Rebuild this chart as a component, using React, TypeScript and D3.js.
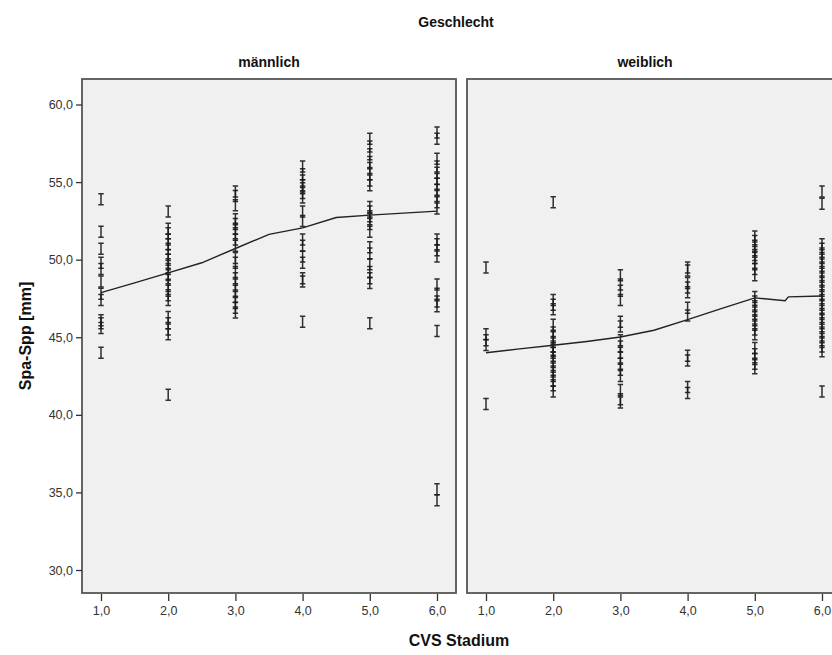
// App.tsx
import * as d3 from "d3";
import React, { useRef, useEffect } from "react";

// CVS stage columns
const stages = [1, 2, 3, 4, 5, 6];
const yTicks = [30, 35, 40, 45, 50, 55, 60];
const panels = ["männlich", "weiblich"];

// Spa-Spp [mm] values per stage
const male1 = [53.9, 51.8, 50.7, 49.8, 49.4, 48.6, 47.8, 47.4, 46.1, 45.9, 45.6, 44.0];
const male2 = [53.1, 52.0, 51.7, 51.3, 51.0, 50.7, 50.3, 50.0, 49.7, 49.4, 49.1, 48.8, 48.3, 48.0, 47.7, 47.4, 46.3, 45.9, 45.5, 45.2, 41.3];
const male3 = [54.4, 54.1, 53.5, 52.6, 52.3, 52.0, 51.7, 51.3, 50.9, 50.1, 49.8, 49.2, 48.8, 48.4, 48.0, 47.6, 47.2, 46.9, 46.6];
const male4 = [56.0, 55.5, 55.1, 54.8, 54.6, 54.3, 54.0, 53.1, 52.5, 51.3, 50.9, 50.2, 49.8, 48.8, 48.6, 46.0];
const male5 = [57.8, 57.3, 56.8, 56.3, 55.9, 55.5, 55.1, 54.8, 53.4, 53.1, 52.8, 52.6, 52.3, 51.8, 50.8, 50.4, 49.7, 49.2, 48.8, 48.5, 45.9];
const male6 = [58.2, 57.8, 56.5, 56.0, 55.6, 55.2, 54.9, 54.5, 54.1, 53.7, 53.3, 51.3, 51.0, 50.6, 50.2, 48.4, 47.8, 47.3, 47.0, 45.4, 35.2, 34.5];

const female1 = [49.5, 45.2, 44.8, 44.5, 40.7];
const female2 = [53.7, 47.4, 47.1, 46.8, 45.8, 45.3, 45.0, 44.7, 44.4, 44.2, 44.0, 43.7, 43.4, 43.1, 42.8, 42.5, 42.2, 41.9, 41.5];
const female3 = [49.0, 48.4, 48.0, 47.4, 46.0, 45.7, 44.8, 44.4, 44.0, 43.7, 43.3, 42.9, 42.5, 41.6, 41.0, 40.8];
const female4 = [49.5, 49.3, 48.5, 48.2, 47.9, 46.9, 46.4, 43.8, 43.5, 41.8, 41.4];
const female5 = [51.5, 51.2, 50.9, 50.6, 50.3, 50.1, 49.8, 49.4, 49.0, 47.6, 47.3, 47.0, 46.7, 46.4, 46.1, 45.8, 45.5, 45.2, 44.3, 43.9, 43.6, 43.3, 43.0];
const female6 = [54.4, 53.6, 51.0, 50.7, 50.4, 50.1, 49.8, 49.5, 49.2, 48.9, 48.6, 48.3, 48.0, 47.7, 47.4, 47.1, 46.8, 46.5, 46.2, 45.9, 45.6, 45.3, 45.0, 44.7, 44.4, 44.1, 41.5];

// fit line
const maleFitX = [1, 1.5, 2, 2.5, 3, 3.5, 4, 4.5, 5, 5.5, 6];
const maleFitY = [47.88, 48.5, 49.15, 49.8, 50.72, 51.63, 52.05, 52.72, 52.87, 53.0, 53.13];
const femaleFitX = [1, 1.5, 2, 2.5, 3, 3.5, 4, 4.5, 5, 5.45, 5.5, 6];
const femaleFitY = [44.0, 44.25, 44.48, 44.73, 45.02, 45.45, 46.14, 46.85, 47.54, 47.35, 47.6, 47.66];

const maleCols = [male1, male2, male3, male4, male5, male6];
const femaleCols = [female1, female2, female3, female4, female5, female6];

const W = 832;
const H = 655;
const top = 79;
const bottom = 593;
const panelW = 374;
const panelX = [82, 467];
const font = "'Liberation Sans', Arial, sans-serif";

function Chart() {
  const ref = useRef(null);

  useEffect(() => {
    const svg = d3.select(ref.current);
    svg.selectAll("*").remove();

    const y = d3.scaleLinear().domain([30, 60]).range([570, 104.5]);

    const groups = [
      { cols: maleCols, fx: maleFitX, fy: maleFitY },
      { cols: femaleCols, fx: femaleFitX, fy: femaleFitY },
    ];

    groups.forEach((grp, pi) => {
      const x0 = panelX[pi];
      const x = d3.scaleLinear().domain([1, 6]).range([x0 + 19, x0 + 355]);
      const g = svg.append("g");

      g.append("rect")
        .attr("x", x0)
        .attr("y", top)
        .attr("width", panelW)
        .attr("height", bottom - top)
        .attr("fill", "#f0f0f0")
        .attr("stroke", "#555")
        .attr("stroke-width", 1.8);

      // header
      g.append("text")
        .attr("x", pi === 0 ? x0 + panelW / 2 : 645)
        .attr("y", 67)
        .attr("text-anchor", "middle")
        .attr("font-family", font)
        .attr("font-weight", "bold")
        .attr("font-size", 14)
        .attr("fill", "#111")
        .text(panels[pi]);

      // x axis
      const xAxis = d3.axisBottom(x)
        .tickValues(stages)
        .tickSize(7)
        .tickFormat((d) => d3.format(".1f")(d).replace(".", ","));
      const ax = g.append("g")
        .attr("transform", `translate(0, ${bottom + 1})`)
        .call(xAxis);
      ax.select(".domain").remove();
      ax.selectAll("line").attr("stroke", "#333").attr("stroke-width", 1.3);
      ax.selectAll("text")
        .attr("font-family", font)
        .attr("font-size", 12.5)
        .attr("fill", "#333")
        .attr("dy", "0.9em");

      // points as I-beams
      grp.cols.forEach((vals, ci) => {
        const cx = x(stages[ci]);
        g.append("g")
          .selectAll("path")
          .data(vals)
          .enter()
          .append("path")
          .attr("d", (d) => {
            const cy = y(d);
            return `M${cx - 2.7},${cy - 5.5}H${cx + 2.7}M${cx},${cy - 5.5}V${cy + 5.5}M${cx - 2.7},${cy + 5.5}H${cx + 2.7}`;
          })
          .attr("fill", "none")
          .attr("stroke", "#1a1a1a")
          .attr("stroke-width", 1.5)
          .attr("opacity", 0.9);
      });

      // fit line
      const line = d3.line()
        .x((d) => x(d[0]))
        .y((d) => y(d[1]));
      g.append("path")
        .datum(d3.zip(grp.fx, grp.fy))
        .attr("d", line)
        .attr("fill", "none")
        .attr("stroke", "#222")
        .attr("stroke-width", 1.4);
    });

    // y axis
    const yAxis = d3.axisLeft(y)
      .tickValues(yTicks)
      .tickSize(6)
      .tickFormat((d) => d3.format(".1f")(d).replace(".", ","));
    const ay = svg.append("g")
      .attr("transform", `translate(${panelX[0]}, 0)`)
      .call(yAxis);
    ay.select(".domain").remove();
    ay.selectAll("line").attr("stroke", "#333").attr("stroke-width", 1.3);
    ay.selectAll("text")
      .attr("font-family", font)
      .attr("font-size", 12.5)
      .attr("fill", "#333");

    // titles
    svg.append("text")
      .attr("x", 456)
      .attr("y", 27)
      .attr("text-anchor", "middle")
      .attr("font-family", font)
      .attr("font-weight", "bold")
      .attr("font-size", 14)
      .attr("fill", "#111")
      .text("Geschlecht");

    svg.append("text")
      .attr("x", 459)
      .attr("y", 646)
      .attr("text-anchor", "middle")
      .attr("font-family", font)
      .attr("font-weight", "bold")
      .attr("font-size", 16)
      .attr("fill", "#111")
      .text("CVS Stadium");

    svg.append("text")
      .attr("transform", "translate(31, 336) rotate(-90)")
      .attr("text-anchor", "middle")
      .attr("font-family", font)
      .attr("font-weight", "bold")
      .attr("font-size", 16)
      .attr("fill", "#111")
      .text("Spa-Spp [mm]");
  }, []);

  return <svg ref={ref} width={W} height={H} style={{ display: "block", background: "#fff" }} />;
}

export default function App() {
  return (
    <div style={{ position: "absolute", left: 0, top: 0, width: W, height: H, overflow: "hidden" }}>
      <Chart />
    </div>
  );
}
